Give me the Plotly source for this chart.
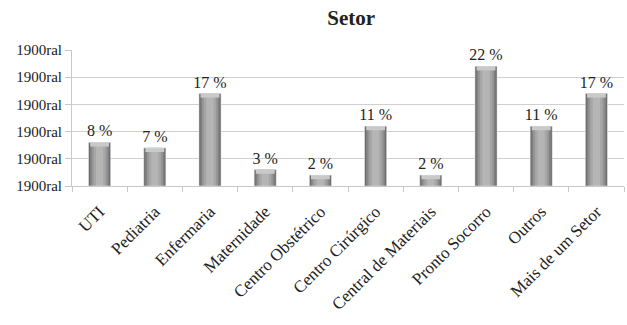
import plotly.graph_objects as go

categories = ["UTI", "Pediatria", "Enfermaria", "Maternidade", "Centro Obstétrico",
              "Centro Cirúrgico", "Central de Materiais", "Pronto Socorro", "Outros",
              "Mais de um Setor"]
values = [8, 7, 17, 3, 2, 11, 2, 22, 11, 17]
labels = [f"{v} %" for v in values]
tick_vals = [0, 5, 10, 15, 20, 25]
tick_text = ["1900ral"] * 6

FONT = "Times New Roman, Liberation Serif, serif"
CAP = 0.75  # height of the light bevel at the top of each bar, in axis units

fig = go.Figure()
# simulated horizontal gradient: overlaid bars of decreasing width
layers = [(0.40, "#6a6a6a"), (0.35, "#808080"), (0.29, "#959595"), (0.22, "#a7a7a7"), (0.13, "#b5b5b5")]
for w, c in layers:
    fig.add_trace(go.Bar(x=categories, y=values, width=w, marker=dict(color=c, line=dict(width=0)),
                         hoverinfo="skip", showlegend=False))
# top bevel
fig.add_trace(go.Bar(x=categories, y=[CAP] * len(values), base=[v - CAP for v in values],
                     width=0.34, marker=dict(color="#c9c9c9", line=dict(width=0)),
                     hoverinfo="skip", showlegend=False))
fig.add_trace(go.Bar(x=categories, y=values, width=0.40, marker=dict(color="rgba(0,0,0,0)"),
                     text=labels, textposition="outside", cliponaxis=False, constraintext="none",
                     textfont=dict(family=FONT, size=16, color="#222"), showlegend=False))

fig.update_layout(
    barmode="overlay",
    width=627, height=325,
    margin=dict(l=72, r=3, t=50, b=139),
    paper_bgcolor="white", plot_bgcolor="white",
    title=dict(text="<b>Setor</b>", x=0.56, xanchor="center", y=0.945, yanchor="middle",
               font=dict(family=FONT, size=21, color="#222")),
    font=dict(family=FONT, color="#222"),
)
fig.update_xaxes(tickangle=-45, tickfont=dict(family=FONT, size=17, color="#222"),
                 showline=True, linecolor="#c8c8c8", ticks="outside", ticklen=5,
                 tickcolor="#c8c8c8", tickson="boundaries", showgrid=False,
                 ticklabelstandoff=8)
fig.update_yaxes(range=[0, 25], tickvals=tick_vals, ticktext=tick_text,
                 tickfont=dict(family=FONT, size=15, color="#222"),
                 showgrid=True, gridcolor="#d0d0d0", showline=True, linecolor="#c8c8c8",
                 ticks="outside", ticklen=6, tickcolor="#c8c8c8", zeroline=False)

fig.write_html("out.html")
